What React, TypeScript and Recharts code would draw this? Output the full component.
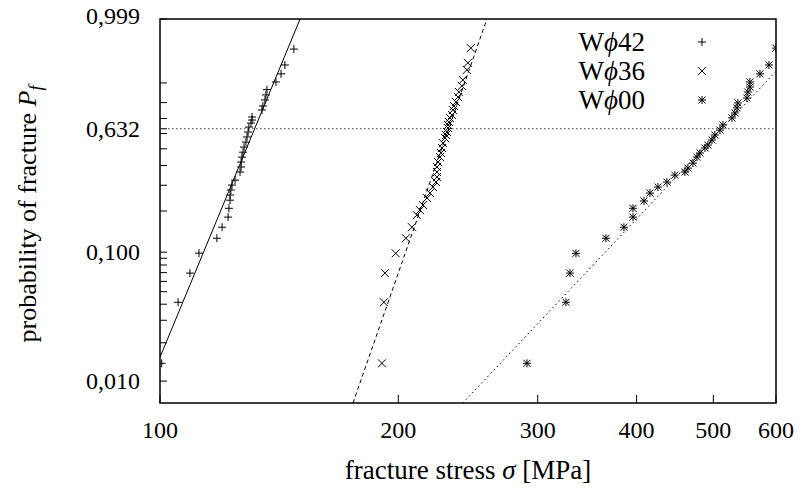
import { ComposedChart, Line, Scatter, XAxis, YAxis, ReferenceLine, ReferenceArea } from 'recharts';

// fracture stress [MPa] and probability of fracture
const W42_STRESS = [100.5, 105.4, 109.1, 112.0, 118.0, 119.8, 121.9, 122.2, 122.6, 122.6, 122.9, 123.3, 124.4, 126.2, 126.6, 126.6, 126.9, 127.3, 127.7, 128.4, 128.8, 129.2, 129.5, 130.3, 130.7, 130.7, 134.5, 134.9, 135.7, 136.1, 136.5, 140.1, 142.2, 143.8, 147.6];
const W42_PROB = [0.0138, 0.0414, 0.0694, 0.0983, 0.127, 0.153, 0.181, 0.209, 0.238, 0.258, 0.279, 0.301, 0.324, 0.365, 0.392, 0.420, 0.449, 0.479, 0.511, 0.543, 0.577, 0.610, 0.643, 0.670, 0.690, 0.710, 0.755, 0.780, 0.815, 0.843, 0.870, 0.904, 0.934, 0.959, 0.986];

const W36_STRESS = [190.7, 191.8, 192.4, 198.5, 204.5, 208.1, 211.1, 213.0, 214.9, 217.4, 219.3, 221.2, 223.2, 223.8, 223.8, 223.8, 224.5, 225.8, 226.4, 227.1, 227.7, 229.1, 229.7, 230.4, 231.1, 231.1, 231.7, 232.4, 233.8, 234.4, 235.1, 236.5, 237.9, 238.5, 240.6, 241.3, 244.1, 244.9, 247.0];
const W36_PROB = [0.0138, 0.0414, 0.0694, 0.098, 0.127, 0.153, 0.187, 0.203, 0.220, 0.246, 0.266, 0.292, 0.315, 0.339, 0.365, 0.392, 0.420, 0.449, 0.474, 0.505, 0.537, 0.570, 0.590, 0.610, 0.637, 0.657, 0.677, 0.704, 0.723, 0.755, 0.780, 0.804, 0.832, 0.858, 0.887, 0.912, 0.946, 0.964, 0.987];

const W00_STRESS = [290.8, 325.7, 329.5, 335.3, 365.9, 385.5, 395.8, 395.8, 408.7, 415.9, 425.6, 436.9, 447.1, 460.3, 464.4, 471.2, 476.7, 480.9, 487.9, 492.2, 498.0, 502.3, 509.7, 514.2, 527.8, 532.4, 535.6, 537.0, 551.3, 552.9, 556.2, 556.2, 572.6, 587.8, 599.8];
const W00_PROB = [0.0138, 0.0414, 0.0694, 0.098, 0.127, 0.153, 0.181, 0.209, 0.235, 0.266, 0.292, 0.315, 0.349, 0.365, 0.386, 0.414, 0.449, 0.474, 0.505, 0.524, 0.557, 0.590, 0.623, 0.657, 0.704, 0.736, 0.768, 0.798, 0.826, 0.858, 0.882, 0.904, 0.934, 0.959, 0.987];

// fitted Weibull lines, two end points each
const FIT42_STRESS = [100, 150.3];
const FIT42_PROB = [0.0154, 0.99938];
const FIT36_STRESS = [175.3, 258.8];
const FIT36_PROB = [0.00672, 0.99938];
const FIT00_STRESS = [241.3, 600];
const FIT00_PROB = [0.00672, 0.942];

const X_TICKS = [100, 200, 300, 400, 500, 600];
const P_MIN = 0.00672;
const P_MAX = 0.99938;
const Y_MAJOR = [0.01, 0.1, 0.632, P_MAX];
const Y_MINOR = [0.02, 0.03, 0.04, 0.05, 0.06, 0.07, 0.08, 0.09, 0.2, 0.3, 0.4, 0.5, 0.6, 0.7, 0.8, 0.9];
const CHAR_P = 0.632;

const FONT = "'Liberation Serif', 'DejaVu Serif', serif";

const weib = (p: number) => Math.log(-Math.log(1 - p));
const table = (s: number[], p: number[]) => s.map((v, i) => ({ s: v, w: weib(p[i]) }));

const d42 = table(W42_STRESS, W42_PROB);
const d36 = table(W36_STRESS, W36_PROB);
const d00 = table(W00_STRESS, W00_PROB);
const f42 = table(FIT42_STRESS, FIT42_PROB);
const f36 = table(FIT36_STRESS, FIT36_PROB);
const f00 = table(FIT00_STRESS, FIT00_PROB);

const majorW = Y_MAJOR.map(weib);
const yTicks = [...Y_MAJOR, ...Y_MINOR].map(weib);
const yDomain = [weib(P_MIN), weib(P_MAX)];

const Plus = ({ cx, cy }: any) => (
  <path d={`M${cx - 4},${cy}h8M${cx},${cy - 4}v8`} stroke="#000" strokeWidth={1} fill="none" />
);
const Cross = ({ cx, cy }: any) => (
  <path d={`M${cx - 4},${cy - 4}l8,8M${cx - 4},${cy + 4}l8,-8`} stroke="#000" strokeWidth={1} fill="none" />
);
const Star = ({ cx, cy }: any) => (
  <path
    d={`M${cx - 4},${cy}h8M${cx},${cy - 4}v8M${cx - 3.5},${cy - 3.5}l7,7M${cx - 3.5},${cy + 3.5}l7,-7`}
    stroke="#000"
    strokeWidth={1}
    fill="none"
  />
);

// short inward tick marks drawn from the reference line end points
const YTickMark = (p: any) => {
  const x = Math.min(p.x1, p.x2);
  return <line x1={x} x2={x + 7} y1={p.y1} y2={p.y1} stroke="#000" strokeWidth={1} />;
};
const XTickMark = (p: any) => {
  const y = Math.max(p.y1, p.y2);
  return <line x1={p.x1} x2={p.x1} y1={y} y2={y - 8} stroke="#000" strokeWidth={1} />;
};

const YTick = ({ y, payload }: any) => {
  const idx = majorW.findIndex((w) => Math.abs(w - payload.value) < 1e-9);
  if (idx < 0) return <g />;
  const top = idx === Y_MAJOR.length - 1;
  return (
    <text x={140} y={top ? y - 3 : y} dy="0.33em" textAnchor="end" fontFamily={FONT} fontSize={24} fill="#000">
      {Y_MAJOR[idx].toFixed(3).replace('.', ',')}
    </text>
  );
};

const XTick = ({ x, payload }: any) => (
  <text x={x} y={438} textAnchor="middle" fontFamily={FONT} fontSize={24} fill="#000">
    {payload.value}
  </text>
);

const LEGEND = [
  { label: '42', Shape: Plus },
  { label: '36', Shape: Cross },
  { label: '00', Shape: Star }
];

export default function App() {
  return (
    <div style={{ position: 'absolute', left: 0, top: 0, width: 808, height: 494, background: '#fff' }}>
      <ComposedChart width={808} height={494} margin={{ top: 19, right: 32, bottom: 0, left: 0 }}>
        <XAxis
          dataKey="s"
          type="number"
          scale="log"
          domain={[100, 600]}
          allowDataOverflow
          ticks={X_TICKS}
          interval={0}
          height={91}
          axisLine={false}
          tickLine={false}
          tick={<XTick />}
        />
        <YAxis
          dataKey="w"
          type="number"
          domain={yDomain}
          allowDataOverflow
          ticks={yTicks}
          interval={0}
          width={160}
          axisLine={false}
          tickLine={false}
          tick={<YTick />}
        />
        {yTicks.map((w) => (
          <ReferenceLine key={`y${w}`} y={w} shape={YTickMark} />
        ))}
        {X_TICKS.map((s) => (
          <ReferenceLine key={`x${s}`} x={s} shape={XTickMark} />
        ))}
        <ReferenceLine y={weib(CHAR_P)} stroke="#444" strokeWidth={1} strokeDasharray="1.5 2.5" />
        <Line data={f42} dataKey="w" stroke="#000" strokeWidth={1} dot={false} isAnimationActive={false} />
        <Line data={f36} dataKey="w" stroke="#000" strokeWidth={1} strokeDasharray="4 3" dot={false} isAnimationActive={false} />
        <Line data={f00} dataKey="w" stroke="#000" strokeWidth={1} strokeDasharray="1.5 3" dot={false} isAnimationActive={false} />
        <Scatter data={d42} dataKey="w" shape={<Plus />} isAnimationActive={false} />
        <Scatter data={d36} dataKey="w" shape={<Cross />} isAnimationActive={false} />
        <Scatter data={d00} dataKey="w" shape={<Star />} isAnimationActive={false} />
        <ReferenceArea x1={100} x2={600} y1={yDomain[0]} y2={yDomain[1]} fill="none" fillOpacity={0} stroke="#000" strokeWidth={1.5} />
      </ComposedChart>

      {LEGEND.map((row, i) => (
        <div key={row.label} style={{ position: 'absolute', top: 42 + i * 29 - 15, left: 500, height: 30, width: 220 }}>
          <span
            style={{ position: 'absolute', right: 220 - 145, top: 0, lineHeight: '30px', fontFamily: FONT, fontSize: 27, whiteSpace: 'nowrap' }}
          >
            W<i>ϕ</i>
            {row.label}
          </span>
          <svg width={20} height={30} style={{ position: 'absolute', left: 192, top: 0 }}>
            <row.Shape cx={10} cy={15} />
          </svg>
        </div>
      ))}

      <div
        style={{
          position: 'absolute',
          left: 30,
          top: 214,
          transform: 'translate(-50%, -50%) rotate(-90deg)',
          fontFamily: FONT,
          fontSize: 26,
          whiteSpace: 'nowrap'
        }}
      >
        probability of fracture <i>P</i>
        <sub style={{ fontSize: 18 }}>
          <i>f</i>
        </sub>
      </div>
      <div
        style={{
          position: 'absolute',
          left: 468,
          top: 470,
          transform: 'translate(-50%, -50%)',
          fontFamily: FONT,
          fontSize: 27,
          whiteSpace: 'nowrap'
        }}
      >
        fracture stress <i>σ</i> [MPa]
      </div>
    </div>
  );
}
